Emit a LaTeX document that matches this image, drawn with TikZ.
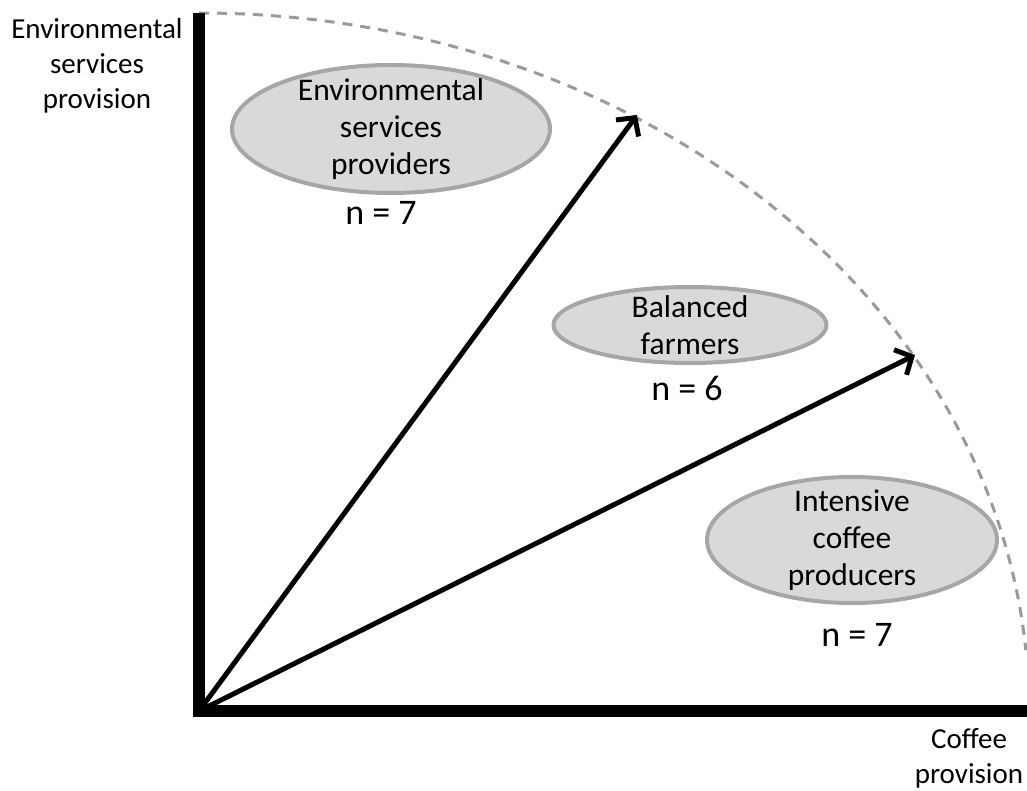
\documentclass[tikz,border=0pt]{standalone}
\usepackage{fontspec}
\setmainfont{Carlito}
\usetikzlibrary{arrows.meta,shapes.geometric}
\definecolor{ovalfill}{HTML}{D9D9D9}
\definecolor{ovaledge}{HTML}{A6A6A6}
\definecolor{arcgray}{HTML}{9A9A9A}
\begin{document}
\begin{tikzpicture}[x=1pt,y=-1pt,
  axis/.style={line width=12pt,line cap=rect},
  vec/.style={line width=5pt,-{Straight Barb[length=13pt,width=28pt]}},
  bound/.style={arcgray,line width=3pt,dash pattern=on 10pt off 8pt},
  oval/.style={ellipse,draw=ovaledge,fill=ovalfill,line width=4pt,inner sep=0pt},
  axislabel/.style={align=center,font=\fontsize{29}{35}\selectfont,inner sep=0pt},
  ovaltext/.style={align=center,font=\fontsize{31.5}{37}\selectfont,inner sep=0pt},
  count/.style={font=\fontsize{36}{40}\selectfont,inner sep=0pt}]
\useasboundingbox (0,0) rectangle (1027,791);

% origin and axis ends
\coordinate (O) at (199,711);
\coordinate (yTop) at (199,19);
\coordinate (xEnd) at (1027,711);
\coordinate (tipA) at (637,115);
\coordinate (tipB) at (915,355);

% outer boundary of the trade-off space
\draw[bound] (199,13) arc[start angle=-90,end angle=-5,x radius=830,y radius=698];

% axes
\draw[axis] (yTop) -- (O) -- (xEnd);

% group boundaries
\draw[vec] (O) -- (tipA);
\draw[vec] (O) -- (tipB);

% axis labels
\node[axislabel] (ylab) at (97,66) {Environmental\\services\\provision};
\node[axislabel] (xlab) at (969,758) {Coffee\\provision};

% farmer groups
\node[oval,minimum width=318pt,minimum height=128pt] (esp) at (391,129) {};
\node[ovaltext] (espText) at (esp.center) {Environmental\\services\\providers};
\node[count] (espN) at (381,213) {n = 7};

\node[oval,minimum width=273pt,minimum height=76pt] (bal) at (690,325) {};
\node[ovaltext] (balText) at (bal.center) {Balanced\\farmers};
\node[count] (balN) at (687,388) {n = 6};

\node[oval,minimum width=290pt,minimum height=126pt] (icp) at (852,540) {};
\node[ovaltext] (icpText) at (icp.center) {Intensive\\coffee\\producers};
\node[count] (icpN) at (857,635) {n = 7};
\end{tikzpicture}
\end{document}
